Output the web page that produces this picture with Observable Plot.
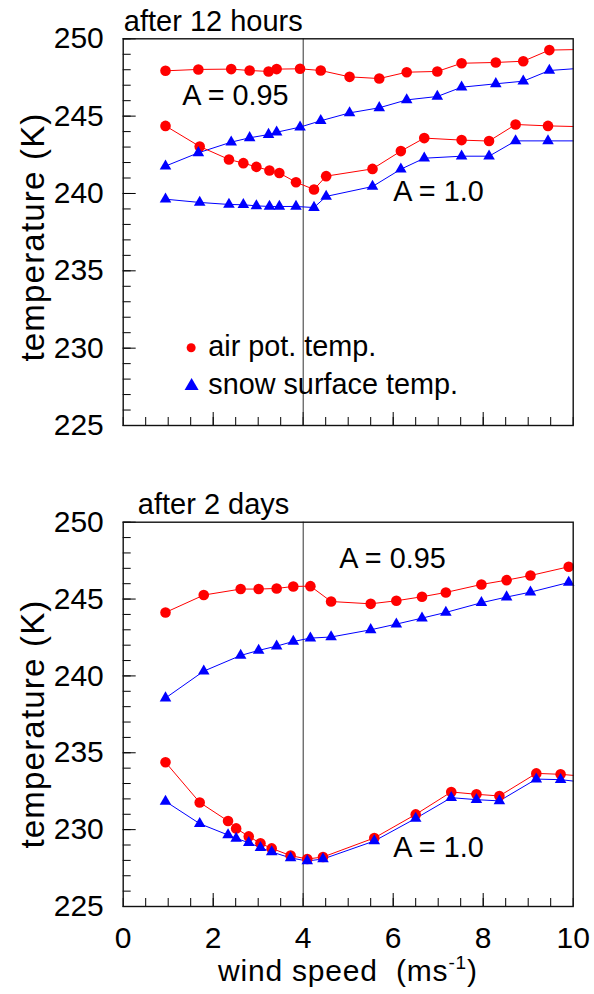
<!DOCTYPE html>
<html><head><meta charset="utf-8">
<script src="https://cdn.jsdelivr.net/npm/d3@7"></script>
<script src="https://cdn.jsdelivr.net/npm/@observablehq/plot@0.6"></script>
<style>
body{margin:0;background:#fff;}
#chart{position:relative;width:594px;height:994px;overflow:hidden;}
#chart svg{display:block;}
</style></head><body><div id="chart"></div>
<script>
// ---------- data ----------
// after 12 hours, A = 0.95
const top95Wind = [0.94,1.67,2.40,2.81,3.23,3.41,3.93,4.39,5.03,5.69,6.30,6.98,7.52,8.28,8.89,9.47];
const top95Air  = [247.93,248.02,248.04,247.95,247.89,248.04,248.06,247.95,247.54,247.43,247.84,247.89,248.42,248.47,248.55,249.27];
const top95Snow = [241.77,242.63,243.32,243.60,243.81,243.96,244.29,244.70,245.21,245.54,246.05,246.27,246.87,247.09,247.26,247.95];
const top95AirAt10 = 249.3, top95SnowAt10 = 248.06;
// after 12 hours, A = 1.0
const top10Wind = [0.94,1.70,2.35,2.67,2.96,3.25,3.47,3.84,4.24,4.51,5.54,6.17,6.69,7.52,8.13,8.72,9.44];
const top10Air  = [244.37,243.04,242.20,241.96,241.72,241.49,241.32,240.73,240.26,241.12,241.59,242.74,243.58,243.45,243.39,244.46,244.37];
const top10Snow = [239.63,239.42,239.29,239.27,239.20,239.16,239.16,239.16,239.09,239.81,240.45,241.57,242.28,242.41,242.41,243.40,243.40];
const top10AirAt10 = 244.33, top10SnowAt10 = 243.40;
// after 2 days, A = 0.95
const bot95Wind = [0.94,1.79,2.61,3.01,3.41,3.78,4.16,4.62,5.50,6.07,6.64,7.17,7.96,8.52,9.05,9.90];
const bot95Air  = [244.13,245.26,245.65,245.65,245.69,245.82,245.84,244.84,244.69,244.89,245.15,245.43,245.95,246.23,246.53,247.10];
const bot95Snow = [238.56,240.31,241.33,241.66,241.94,242.24,242.46,242.53,243.00,243.37,243.76,244.13,244.76,245.13,245.45,246.08];
// after 2 days, A = 1.0
const bot10Wind = [0.94,1.70,2.33,2.51,2.79,3.05,3.30,3.72,4.09,4.44,5.58,6.50,7.29,7.85,8.36,9.18,9.72];
const bot10Air  = [234.38,231.77,230.56,230.08,229.56,229.11,228.78,228.31,228.09,228.22,229.46,230.99,232.45,232.30,232.19,233.66,233.60];
const bot10Snow = [231.84,230.39,229.65,229.43,229.15,228.83,228.55,228.16,227.96,228.09,229.26,230.73,232.08,231.95,231.87,233.29,233.25];
const bot10AirAt10 = 233.53, bot10SnowAt10 = 233.16;

const yTickLabels = [225,230,235,240,245,250];
const xTickLabels = [0,2,4,6,8,10];
const xMajorTicks = [2,4,6,8];
const refWind = 4;
const legendLabels = ["air pot. temp.", "snow surface temp."];
const panelTitles = ["after 12 hours", "after 2 days"];
const albedoLabels = ["A = 0.95", "A = 1.0"];

// ---------- helpers ----------
const RED = "#ff0000", BLUE = "#0000ff";
const FONT = "'Liberation Sans', Arial, Helvetica, sans-serif";
const W = 594, ML = 122.7, MR = 21.3;
const yMinor = d3.range(225, 251, 1);
const xMinor = d3.range(0, 10.01, 0.5);

function pts(wind, temps) {
  return wind.map((x, i) => ({x, y: temps[i]}));
}
function linePts(wind, temps, edge) {
  const p = pts(wind, temps);
  if (edge !== undefined) p.push({x: 10, y: edge});
  return p;
}

function makePanel(cfg) {
  const fw = W - ML - MR;
  const fh = cfg.height - cfg.marginTop - cfg.marginBottom;
  const marks = [
    Plot.ruleY(yMinor, {stroke: "#000", strokeWidth: 1, insetRight: fw - 8}),
    Plot.ruleY(yTickLabels, {stroke: "#000", strokeWidth: 1, insetRight: fw - 13}),
    Plot.ruleX(xMinor, {stroke: "#000", strokeWidth: 1, insetTop: fh - 8}),
    Plot.ruleX(xMajorTicks, {stroke: "#000", strokeWidth: 1, insetTop: fh - 13}),
    Plot.ruleX([refWind], {stroke: "#333", strokeWidth: 1})
  ];
  for (const s of cfg.series) {
    marks.push(Plot.line(linePts(s.wind, s.air, s.airEdge), {x: "x", y: "y", stroke: RED, strokeWidth: 1}));
    marks.push(Plot.line(linePts(s.wind, s.snow, s.snowEdge), {x: "x", y: "y", stroke: BLUE, strokeWidth: 1}));
  }
  for (const s of cfg.series) {
    marks.push(Plot.dot(pts(s.wind, s.air), {x: "x", y: "y", r: 5.3, fill: RED, stroke: null}));
  }
  for (const s of cfg.series) {
    marks.push(Plot.dot(pts(s.wind, s.snow), {x: "x", y: "y", r: 4.3, symbol: "triangle", fill: BLUE, stroke: null}));
  }
  marks.push(Plot.frame({stroke: "#111", strokeWidth: 1.4}));
  marks.push(Plot.axisY(yTickLabels, {tickSize: 0, tickPadding: 19.4, label: null}));
  if (cfg.showX) marks.push(Plot.axisX(xTickLabels, {tickSize: 0, tickPadding: 20.5, label: null}));
  marks.push(Plot.text([cfg.title], {frameAnchor: "top-left", textAnchor: "start", lineAnchor: "top", dx: cfg.titleDx, dy: cfg.titleDy, fontSize: 29}));
  marks.push(Plot.text(cfg.notes, {x: "x", y: "y", text: "text", textAnchor: "start", fontSize: 28.8}));
  if (cfg.legend) {
    marks.push(Plot.dot([cfg.legend[0]], {x: "sx", y: "sy", r: 4.5, fill: RED, stroke: null}));
    marks.push(Plot.dot([cfg.legend[1]], {x: "sx", y: "sy", r: 5.2, symbol: "triangle", fill: BLUE, stroke: null}));
    marks.push(Plot.text(cfg.legend, {x: "tx", y: "ty", text: "text", textAnchor: "start", fontSize: 28.8}));
  }
  const svg = Plot.plot({
    width: W, height: cfg.height,
    marginLeft: ML, marginRight: MR, marginTop: cfg.marginTop, marginBottom: cfg.marginBottom,
    x: {domain: [0, 10], axis: null},
    y: {domain: [225, 250], axis: null},
    style: {fontFamily: FONT, fontSize: "30px", color: "#000", background: "#fff", overflow: "visible"},
    marks
  });
  // rotated y-axis title
  d3.select(svg).append("text")
    .attr("transform", `translate(44,${cfg.yTitleY}) rotate(-90)`)
    .attr("text-anchor", "middle")
    .attr("font-family", FONT)
    .attr("font-size", 33)
    .attr("letter-spacing", "1.2px")
    .attr("fill", "#000")
    .text("temperature (K)");
  return svg;
}

const topSvg = makePanel({
  height: 470, marginTop: 38.3, marginBottom: 45,
  title: panelTitles[0], titleDx: 0.6, titleDy: -28.5,
  yTitleY: 237,
  series: [
    {wind: top95Wind, air: top95Air, snow: top95Snow, airEdge: top95AirAt10, snowEdge: top95SnowAt10},
    {wind: top10Wind, air: top10Air, snow: top10Snow, airEdge: top10AirAt10, snowEdge: top10SnowAt10}
  ],
  notes: [
    {x: 1.31, y: 246.29, text: albedoLabels[0]},
    {x: 6.0, y: 240.13, text: albedoLabels[1]}
  ],
  legend: [
    {sx: 1.51, sy: 230.03, tx: 1.89, ty: 230.11, text: legendLabels[0]},
    {sx: 1.52, sy: 227.55, tx: 1.89, ty: 227.63, text: legendLabels[1]}
  ]
});

const botSvg = makePanel({
  height: 524, marginTop: 51.7, marginBottom: 88,
  title: panelTitles[1], titleDx: 14.6, titleDy: -29.2,
  yTitleY: 254, showX: true,
  series: [
    {wind: bot95Wind, air: bot95Air, snow: bot95Snow},
    {wind: bot10Wind, air: bot10Air, snow: bot10Snow, airEdge: bot10AirAt10, snowEdge: bot10SnowAt10}
  ],
  notes: [
    {x: 4.8, y: 247.62, text: albedoLabels[0]},
    {x: 6.0, y: 228.85, text: albedoLabels[1]}
  ]
});

// x-axis title with superscript
const xt = d3.select(botSvg).append("text")
  .attr("x", 218).attr("y", 511)
  .attr("text-anchor", "start")
  .attr("font-family", FONT).attr("font-size", 30).attr("fill", "#000")
  .attr("letter-spacing", "0.8px")
  .style("white-space", "pre");
xt.append("tspan").text("wind speed  (ms");
xt.append("tspan").attr("font-size", 19).attr("dy", -12).text("-1");
xt.append("tspan").attr("dy", 12).text(")");

const chart = document.getElementById("chart");
chart.appendChild(topSvg);
chart.appendChild(botSvg);
</script></body></html>
